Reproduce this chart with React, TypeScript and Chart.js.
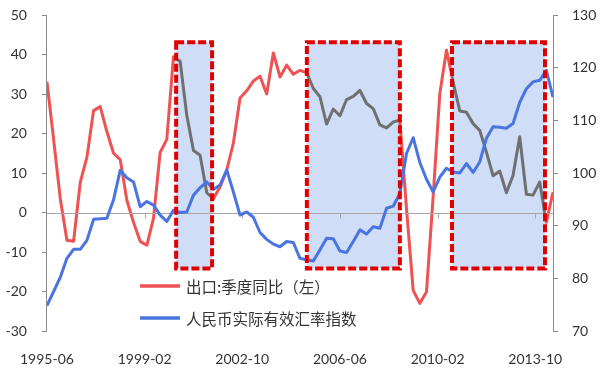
import React, { useEffect, useRef } from 'react';
import { Chart, registerables } from 'chart.js';

Chart.register(...registerables);

// ---------- data ----------
const START = '1995-06'; // first quarter, one point every 3 months
const exportYoY = [
  33.1, 18.5, 3.5, -7.0, -7.3, 7.6, 14.0, 25.8, 26.8, 20.5,
  15.0, 13.4, 3.1, -2.5, -7.3, -8.3, -1.5, 15.2, 18.5, 39.4,
  38.3, 24.6, 15.7, 14.5, 5.0, 3.5, 6.5, 10.7, 17.6, 29.0,
  30.8, 33.3, 34.5, 30.0, 40.4, 34.3, 37.3, 35.0, 36.0, 35.4,
  31.4, 29.3, 22.4, 26.2, 24.5, 28.6, 29.4, 30.9, 27.6, 26.3,
  22.2, 21.4, 22.9, 23.4, 1.0, -19.7, -23.0, -20.1, 4.0, 30.1,
  41.1, 33.0, 25.7, 25.4, 22.5, 20.8, 15.3, 9.3, 10.5, 5.0,
  9.4, 19.2, 4.6, 4.4, 7.7, -2.5, 5.2,
];
const reerIndex = [
  74.8, 77.5, 80.2, 83.8, 85.5, 85.5, 87.2, 91.2, 91.3, 91.4,
  94.9, 100.5, 99.1, 98.3, 93.6, 94.6, 93.9, 92.0, 90.8, 92.9,
  92.5, 92.6, 95.8, 97.2, 98.3, 96.9, 97.7, 100.6, 96.4, 92.0,
  92.6, 91.6, 88.7, 87.4, 86.5, 86.0, 87.0, 86.8, 83.8, 83.5,
  83.3, 85.4, 87.6, 87.5, 85.2, 84.9, 87.0, 89.2, 88.4, 89.8,
  89.5, 93.3, 93.7, 96.1, 103.7, 106.7, 102.0, 98.8, 96.4, 99.2,
  100.9, 100.2, 100.0, 101.8, 100.1, 102.1, 106.6, 108.8, 108.7, 108.5,
  109.4, 113.4, 116.0, 117.3, 117.6, 119.5, 114.4,
];
const xTickLabels = ['1995-06', '1999-02', '2002-10', '2006-06', '2010-02', '2013-10'];
const seriesNames = ['出口:季度同比（左）', '人民币实际有效汇率指数'];
// highlighted periods, in months since START
const highlightFrom = [58.2, 117.1, 182.5];
const highlightTo = [74.4, 159.0, 224.4];
// vertical extent of the highlight boxes, in left-axis units
const highlightLow = -14.2;
const highlightHigh = 43.1;

// ---------- helpers ----------
function monthsSince(label: string): number {
  const [y, m] = label.split('-').map(Number);
  const [y0, m0] = START.split('-').map(Number);
  return (y - y0) * 12 + (m - m0);
}
const pointMonths = exportYoY.map((_, i) => i * 3);
const tickMonths = xTickLabels.map(monthsSince);

const RED = '#ef5252';
const BLUE = '#4a74e0';
const GRAY = '#707070';
const BOX_FILL = 'rgb(207,221,247)';
const BOX_BORDER = '#e00000';
const AXIS = '#8c8c8c';
const TEXT = '#333333';
const TICK_FONT = { family: 'Lato', size: 14 };

const overlayPlugin = {
  id: 'overlay',
  beforeDatasetDraw(chart: any, args: any) {
    if (args.index !== 0) return; // before the blue line is drawn
    const { ctx, chartArea } = chart;
    const xs = chart.scales.x;
    const ys = chart.scales.y;
    const rects = highlightFrom.map((f, i) => {
      const l = xs.getPixelForValue(f);
      const r = xs.getPixelForValue(highlightTo[i]);
      const t = ys.getPixelForValue(highlightHigh);
      const b = ys.getPixelForValue(highlightLow);
      return { l, t, w: r - l, h: b - t };
    });
    ctx.save();
    ctx.fillStyle = BOX_FILL;
    rects.forEach((r) => ctx.fillRect(r.l, r.t, r.w, r.h));
    // zero line + x tick marks
    const y0 = Math.round(ys.getPixelForValue(0)) + 0.5;
    ctx.strokeStyle = '#a6a6a6';
    ctx.lineWidth = 1;
    ctx.beginPath();
    ctx.moveTo(chartArea.left, y0);
    ctx.lineTo(chartArea.right, y0);
    tickMonths.slice(1).forEach((m) => {
      const px = Math.round(xs.getPixelForValue(m)) + 0.5;
      ctx.moveTo(px, y0);
      ctx.lineTo(px, y0 + 5);
    });
    ctx.stroke();
    // export line shown in gray inside highlighted periods
    rects.forEach((r) => {
      ctx.save();
      ctx.beginPath();
      ctx.rect(r.l, r.t, r.w, r.h);
      ctx.clip();
      ctx.beginPath();
      exportYoY.forEach((v, i) => {
        const px = xs.getPixelForValue(pointMonths[i]);
        const py = ys.getPixelForValue(v);
        if (i === 0) ctx.moveTo(px, py);
        else ctx.lineTo(px, py);
      });
      ctx.strokeStyle = GRAY;
      ctx.lineWidth = 3;
      ctx.lineJoin = 'round';
      ctx.stroke();
      ctx.restore();
    });
    ctx.restore();
  },
  afterDatasetsDraw(chart: any) {
    const { ctx } = chart;
    const xs = chart.scales.x;
    const ys = chart.scales.y;
    ctx.save();
    ctx.strokeStyle = BOX_BORDER;
    ctx.lineWidth = 4;
    ctx.setLineDash([8, 3]);
    highlightFrom.forEach((f, i) => {
      const l = xs.getPixelForValue(f);
      const r = xs.getPixelForValue(highlightTo[i]);
      const t = ys.getPixelForValue(highlightHigh);
      const b = ys.getPixelForValue(highlightLow);
      ctx.strokeRect(l, t, r - l, b - t);
    });
    ctx.restore();
  },
  afterDraw(chart: any) {
    const { ctx } = chart;
    const colors = [RED, BLUE];
    const rows = [286, 318];
    ctx.save();
    seriesNames.forEach((name, i) => {
      ctx.strokeStyle = colors[i];
      ctx.lineWidth = 3.5;
      ctx.beginPath();
      ctx.moveTo(140, rows[i]);
      ctx.lineTo(180, rows[i]);
      ctx.stroke();
      ctx.fillStyle = TEXT;
      ctx.font = '15.5px "Noto Sans CJK SC"';
      ctx.textBaseline = 'middle';
      ctx.textAlign = 'left';
      ctx.fillText(name, 186, rows[i] + 1);
    });
    ctx.restore();
  },
};

function fixVertical(width: number) {
  return (s: any) => {
    s.width = width;
    s.paddingTop = 0;
    s.paddingBottom = 0;
  };
}

export default function App() {
  const canvasRef = useRef<HTMLCanvasElement | null>(null);

  useEffect(() => {
    document.body.style.margin = '0';
    const canvas = canvasRef.current;
    if (!canvas) return;
    const chart = new Chart(canvas, {
      type: 'line',
      data: {
        datasets: [
          {
            label: seriesNames[1],
            data: reerIndex.map((v, i) => ({ x: pointMonths[i], y: v })),
            borderColor: BLUE,
            borderWidth: 3,
            pointRadius: 0,
            tension: 0,
            yAxisID: 'y1',
            borderJoinStyle: 'round',
          },
          {
            label: seriesNames[0],
            data: exportYoY.map((v, i) => ({ x: pointMonths[i], y: v })),
            borderColor: RED,
            borderWidth: 3,
            pointRadius: 0,
            tension: 0,
            yAxisID: 'y',
            borderJoinStyle: 'round',
          },
        ],
      },
      options: {
        responsive: false,
        animation: false,
        layout: { padding: { top: 15, left: 0, right: 0, bottom: 0 } },
        plugins: { legend: { display: false }, tooltip: { enabled: false } },
        scales: {
          x: {
            type: 'linear',
            min: 0,
            max: pointMonths[pointMonths.length - 1],
            grid: { display: false, drawTicks: false },
            border: { display: false },
            afterBuildTicks: (s: any) => {
              s.ticks = tickMonths.map((v) => ({ value: v }));
            },
            ticks: {
              autoSkip: false,
              maxRotation: 0,
              padding: 20,
              color: TEXT,
              font: TICK_FONT,
              callback: (v: any) => {
                const k = tickMonths.indexOf(Number(v));
                return k >= 0 ? xTickLabels[k] : '';
              },
            },
            afterFit: (s: any) => {
              s.height = 53;
            },
          },
          y: {
            position: 'left',
            min: -30,
            max: 50,
            ticks: { stepSize: 10, padding: 15, color: TEXT, font: TICK_FONT },
            grid: { drawOnChartArea: false, tickLength: 5, color: AXIS },
            border: { color: AXIS },
            afterFit: fixVertical(44),
          },
          y1: {
            position: 'right',
            min: 70,
            max: 130,
            ticks: { stepSize: 10, padding: 14, color: TEXT, font: TICK_FONT },
            grid: { drawOnChartArea: false, tickLength: 5, color: AXIS },
            border: { color: AXIS },
            afterFit: fixVertical(47),
          },
        },
      } as any,
      plugins: [overlayPlugin],
    });
    return () => chart.destroy();
  }, []);

  return (
    <div style={{ position: 'fixed', left: 0, top: 0, width: 600, height: 384, background: '#fff' }}>
      <canvas ref={canvasRef} width={600} height={384} />
    </div>
  );
}
